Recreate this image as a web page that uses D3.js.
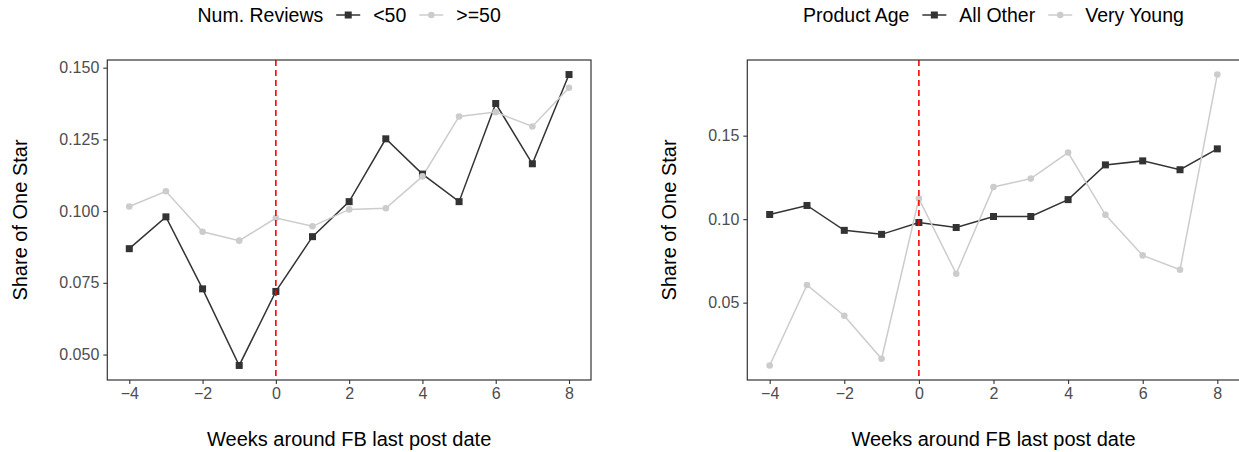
<!DOCTYPE html>
<html>
<head>
<meta charset="utf-8">
<script src="https://cdn.jsdelivr.net/npm/d3@7"></script>
<style>
  html, body { margin: 0; padding: 0; background: #fff; }
  svg { display: block; font-family: "Liberation Sans", Arial, Helvetica, sans-serif; }
</style>
</head>
<body>
<svg id="chart" width="1239" height="452"></svg>
<script>
// ---------------- data ----------------
const weeks = [-4, -3, -2, -1, 0, 1, 2, 3, 4, 5, 6, 7, 8];

const reviewsLabels = ["<50", ">=50"];
const reviewsLow  = [0.0869, 0.0980, 0.0729, 0.0462, 0.0720, 0.0911, 0.1033, 0.1252, 0.1129, 0.1033, 0.1375, 0.1165, 0.1476];
const reviewsHigh = [0.1016, 0.1069, 0.0928, 0.0897, 0.0976, 0.0947, 0.1006, 0.1010, 0.1121, 0.1330, 0.1345, 0.1295, 0.1430];

const ageLabels = ["All Other", "Very Young"];
const ageOther = [0.1028, 0.1082, 0.0933, 0.0909, 0.0980, 0.0950, 0.1016, 0.1016, 0.1117, 0.1325, 0.1349, 0.1296, 0.1421];
const ageYoung = [0.0124, 0.0606, 0.0422, 0.0164, 0.1123, 0.0673, 0.1193, 0.1243, 0.1399, 0.1026, 0.0783, 0.0697, 0.1866];

const xTicks = [-4, -2, 0, 2, 4, 6, 8];
const leftYTicks = [0.050, 0.075, 0.100, 0.125, 0.150];
const leftYTickLabels = ["0.050", "0.075", "0.100", "0.125", "0.150"];
const rightYTicks = [0.05, 0.10, 0.15];
const rightYTickLabels = ["0.05", "0.10", "0.15"];

const xTitle = "Weeks around FB last post date";
const yTitle = "Share of One Star";
const eventWeek = 0;

// ---------------- styles ----------------
const DARK = "#333333", LIGHT = "#CCCCCC";
const svg = d3.select("#chart");

function expand(lo, hi, f) { const d = (hi - lo) * f; return [lo - d, hi + d]; }

function panel(opts) {
  const { left, right, top, bottom, series, labels, legendTitle, yTicks, yTickLabels, yTitleX } = opts;
  const g = svg.append("g");
  const xDom = expand(d3.min(weeks), d3.max(weeks), 0.05);
  const all = series.flat();
  const yDom = expand(d3.min(all), d3.max(all), 0.05);
  const x = d3.scaleLinear().domain(xDom).range([left, right]);
  const y = d3.scaleLinear().domain(yDom).range([bottom, top]);

  // axes
  const xa = g.append("g").attr("transform", `translate(0,${bottom})`)
    .call(d3.axisBottom(x).tickValues(xTicks).tickSize(4).tickPadding(4)
      .tickFormat(d => d < 0 ? "\u2212" + Math.abs(d) : String(d)));
  const ya = g.append("g").attr("transform", `translate(${left},0)`)
    .call(d3.axisLeft(y).tickValues(yTicks).tickSize(4).tickPadding(4)
      .tickFormat((d, i) => yTickLabels[i]));
  [xa, ya].forEach(a => {
    a.select(".domain").remove();
    a.selectAll(".tick line").attr("stroke", DARK).attr("stroke-width", 1.1);
    a.selectAll(".tick text").attr("fill", "#4D4D4D").attr("font-size", 16)
      .attr("font-family", "'Liberation Sans', Arial, sans-serif");
  });

  const line = d3.line().x((d, i) => x(weeks[i])).y(d => y(d));
  const colors = [DARK, LIGHT];
  // lines
  series.forEach((s, k) => {
    g.append("path").datum(s).attr("d", line).attr("fill", "none")
      .attr("stroke", colors[k]).attr("stroke-width", 1.5);
  });
  // points
  g.append("g").selectAll("rect").data(series[0]).join("rect")
    .attr("x", (d, i) => x(weeks[i]) - 3.5).attr("y", d => y(d) - 3.5)
    .attr("width", 7).attr("height", 7).attr("fill", DARK);
  g.append("g").selectAll("circle").data(series[1]).join("circle")
    .attr("cx", (d, i) => x(weeks[i])).attr("cy", d => y(d)).attr("r", 3.3)
    .attr("fill", LIGHT);

  // event line
  g.append("line").attr("x1", x(eventWeek)).attr("x2", x(eventWeek))
    .attr("y1", top).attr("y2", bottom).attr("stroke", "#FF0000")
    .attr("stroke-width", 1.6).attr("stroke-dasharray", "6,4");

  // border
  g.append("rect").attr("x", left).attr("y", top).attr("width", right - left)
    .attr("height", bottom - top).attr("fill", "none").attr("stroke", DARK).attr("stroke-width", 1.2);

  // titles
  const cx = (left + right) / 2;
  g.append("text").attr("x", cx).attr("y", 446).attr("text-anchor", "middle")
    .attr("font-size", 20).attr("fill", "#000").text(xTitle);
  g.append("text").attr("transform", `translate(${yTitleX},${(top + bottom) / 2}) rotate(-90)`)
    .attr("text-anchor", "middle").attr("font-size", 20).attr("fill", "#000").text(yTitle);

  // legend
  const lg = g.append("g");
  const fs = 19.5, gap = 13, keyW = 24, base = 22;
  let cur = 0;
  const t = lg.append("text").attr("x", cur).attr("y", base).attr("font-size", fs).text(legendTitle);
  cur += t.node().getComputedTextLength() + gap;
  labels.forEach((lab, k) => {
    const ky = base - 7;
    lg.append("line").attr("x1", cur).attr("x2", cur + keyW).attr("y1", ky).attr("y2", ky)
      .attr("stroke", colors[k]).attr("stroke-width", 1.5);
    if (k === 0) {
      lg.append("rect").attr("x", cur + keyW / 2 - 3.5).attr("y", ky - 3.5)
        .attr("width", 7).attr("height", 7).attr("fill", DARK);
    } else {
      lg.append("circle").attr("cx", cur + keyW / 2).attr("cy", ky).attr("r", 3.3).attr("fill", LIGHT);
    }
    cur += keyW + gap;
    const lt = lg.append("text").attr("x", cur).attr("y", base).attr("font-size", fs).text(lab);
    cur += lt.node().getComputedTextLength() + (k < labels.length - 1 ? gap : 0);
  });
  lg.attr("transform", `translate(${cx - cur / 2},0)`);
}

panel({ left: 107.3, right: 591, top: 60, bottom: 380,
  series: [reviewsLow, reviewsHigh], labels: reviewsLabels, legendTitle: "Num. Reviews",
  yTicks: leftYTicks, yTickLabels: leftYTickLabels, yTitleX: 27 });

panel({ left: 747.3, right: 1239.7, top: 60, bottom: 380,
  series: [ageOther, ageYoung], labels: ageLabels, legendTitle: "Product Age",
  yTicks: rightYTicks, yTickLabels: rightYTickLabels, yTitleX: 676 });
</script>
</body>
</html>
